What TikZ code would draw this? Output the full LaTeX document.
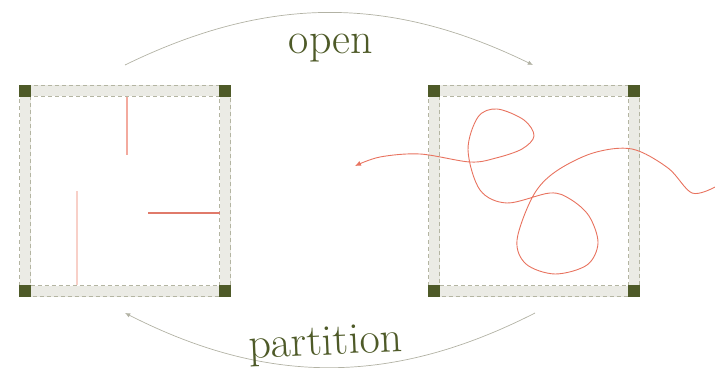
\documentclass[tikz,border=0pt]{standalone}
\usepackage{xcolor}
\definecolor{mossgreen}{HTML}{4E5A28}
\definecolor{wallgrey}{HTML}{EBEBE5}
\definecolor{dashgrey}{HTML}{B4B5A2}
\definecolor{arcgrey}{HTML}{B2B2A4}
\definecolor{walkred}{HTML}{E8735F}
\definecolor{wallpink}{HTML}{F3AA9E}
\definecolor{wallblush}{HTML}{F8D0C8}
\definecolor{wallsalmon}{HTML}{E07A6A}
\usepackage{tikz}
\usetikzlibrary{arrows.meta,calc}
\tikzset{
  room/.style    ={rectangle, draw=wallgrey, line width=5.5pt, inner sep=0pt, outer sep=0pt,
                   minimum width=100pt, minimum height=100pt},
  walldash/.style={draw=dashgrey, line width=0.5pt, dash pattern=on 2pt off 1.5pt},
  pillar/.style  ={rectangle, fill=mossgreen, inner sep=0pt, outer sep=0pt, minimum size=6pt},
  partwall/.style={line width=0.55pt},
  walk/.style    ={draw=walkred, line width=0.45pt, -{Latex[length=3pt,width=2.6pt]}},
  flowarc/.style ={draw=arcgrey, line width=0.35pt, -{Latex[length=2.6pt,width=2.2pt]}},
  lbl/.style     ={text=mossgreen, font=\fontsize{22}{26}\selectfont, inner sep=0pt, anchor=base},
}

\begin{document}
\begin{tikzpicture}[x=0.5pt, y=-0.5pt]
  \useasboundingbox (0,0) rectangle (715,368);
  \node[room] (lroom) at (125,191) {};
  \node[room] (rroom) at (534,191) {};
  \foreach \r in {lroom,rroom} {
    \foreach \d in {-2.75pt,2.75pt}
      \draw[walldash] ([shift={(-\d,\d)}]\r.north west) rectangle ([shift={(\d,-\d)}]\r.south east);
    \foreach \a in {north west,north east,south west,south east}
      \node[pillar] at (\r.\a) {};
  }
  % inner walls of the partitioned room
  \draw[partwall, draw=wallpink] (127,97) -- (127,155);
  \draw[partwall, draw=wallblush] (77,191) -- (77,285);
  \draw[partwall, draw=wallsalmon] (148,213) -- (220,213);
  % path wandering through the open room
  \draw[walk] plot[smooth, tension=0.55] coordinates {
    (715,187) (692,193) (668,168) (632,149) (593,153) (555,172) (533,196)
    (517,240) (526,264) (555,274) (587,265) (598,243) (589,216) (570,199)
    (550,193) (507,203) (480,190) (468,150) (478,117) (497,109) (524,120)
    (534,136) (522,149) (496,158) (470,162) (420,154) (380,157) (355,166)};
  \coordinate (ltop) at ($(lroom.north)+(0,-26)$);
  \coordinate (rtop) at ($(rroom.north)+(-1,-26)$);
  \coordinate (lbot) at ($(lroom.south)+(0,22)$);
  \coordinate (rbot) at ($(rroom.south)+(1,22)$);
  \draw[flowarc] (ltop) to[bend left=26] (rtop);
  \draw[flowarc] (rbot) to[bend left=27] (lbot);
  \node[lbl] (open) at (331,54) {open};
  \node[lbl, rotate=2.5] (partition) at (326,355) {partition};
\end{tikzpicture}
\end{document}
